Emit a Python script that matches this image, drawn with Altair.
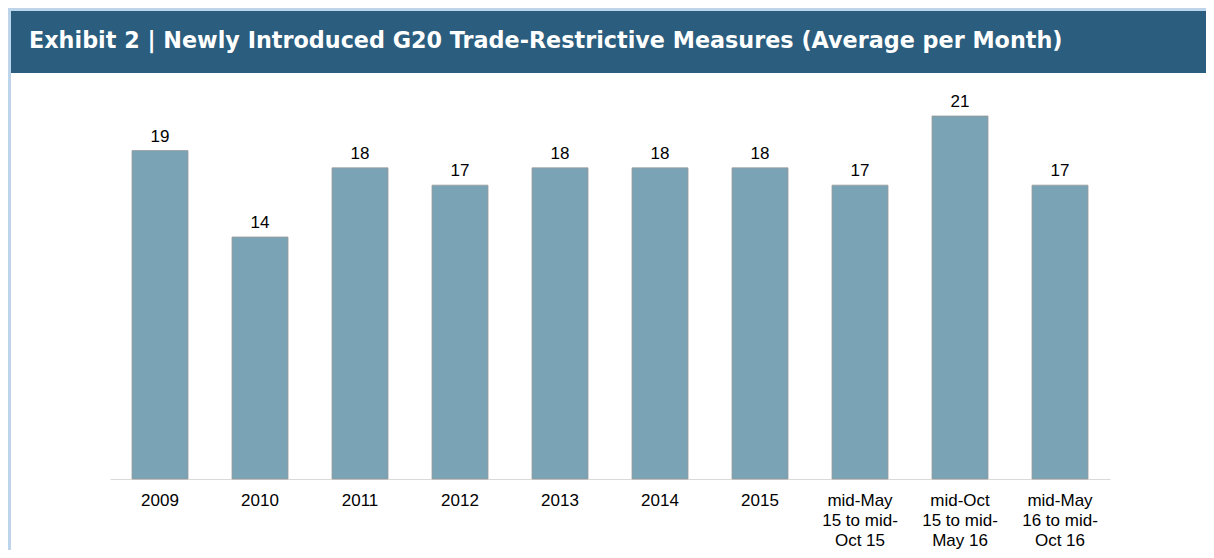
import altair as alt
import pandas as pd

categories = ["2009", "2010", "2011", "2012", "2013", "2014", "2015",
              "mid-May\n15 to mid-\nOct 15", "mid-Oct\n15 to mid-\nMay 16",
              "mid-May\n16 to mid-\nOct 16"]
values = [19, 14, 18, 17, 18, 18, 18, 17, 21, 17]
title_text = "Exhibit 2 | Newly Introduced G20 Trade-Restrictive Measures (Average per Month)"

df = pd.DataFrame({"cat": categories, "val": values})

FONT = "Liberation Sans"
x_enc = alt.X("cat:N", sort=None, title=None,
              scale=alt.Scale(paddingInner=0.44, paddingOuter=0.22),
              axis=alt.Axis(labelExpr="split(datum.label, '\\n')", labelAngle=0,
                            labelFont=FONT, labelFontSize=17, labelColor="#000000",
                            labelLineHeight=20, labelPadding=13, ticks=False,
                            domainColor="#d9d9d9", domainWidth=1))
y_enc = alt.Y("val:Q", title=None, scale=alt.Scale(domain=[0, 21], nice=False),
              axis=None)

base = alt.Chart(df)
bars = base.mark_bar(color="#7aa3b5", stroke="#9a9a9a", strokeWidth=0.8).encode(x=x_enc, y=y_enc)
labels = base.mark_text(font=FONT, fontSize=17, color="#000000", baseline="alphabetic", dy=-9).encode(
    x=alt.X("cat:N", sort=None), y="val:Q", text="val:Q")

deco = alt.Chart(pd.DataFrame({"d": [0]}))
top_border = deco.mark_rect(color="#bdd5ea").encode(
    x=alt.value(-102), x2=alt.value(1096), y=alt.value(-108), y2=alt.value(-105))
left_border = deco.mark_rect(color="#bdd5ea").encode(
    x=alt.value(-102), x2=alt.value(-99), y=alt.value(-108), y2=alt.value(434))
title_bar = deco.mark_rect(color="#2a5d7e").encode(
    x=alt.value(-99), x2=alt.value(1096), y=alt.value(-105), y2=alt.value(-43))
title = deco.mark_text(font="DejaVu Sans", fontSize=22.3, fontWeight="bold", color="#ffffff",
                       align="left", baseline="alphabetic").encode(
    x=alt.value(-81), y=alt.value(-68), text=alt.value(title_text))

chart = alt.layer(top_border, left_border, title_bar, title, bars, labels).properties(
    width=1000, height=363,
    padding={"left": 102, "top": 108, "right": 96, "bottom": 71},
    autosize=alt.AutoSizeParams(type="none"),
    background="#ffffff",
).configure_view(stroke=None)

chart.save("out.html", embed_options={"renderer": "svg", "actions": False})
